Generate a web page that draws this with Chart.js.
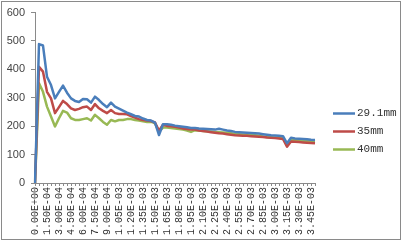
<!DOCTYPE html>
<html>
<head>
<meta charset="utf-8">
<script src="https://cdn.jsdelivr.net/npm/chart.js@4"></script>
<style>
  body { margin: 0; background: #fff; }
  canvas { display: block; }
</style>
</head>
<body>
<canvas id="chart" width="402" height="242"></canvas>
<script>
// x categories: 0 to 3.50E-03, step 5E-05
const steps = ["0.00E+00","5.00E-05","1.00E-04","1.50E-04","2.00E-04","2.50E-04","3.00E-04","3.50E-04","4.00E-04","4.50E-04",
  "5.00E-04","5.50E-04","6.00E-04","6.50E-04","7.00E-04","7.50E-04","8.00E-04","8.50E-04","9.00E-04","9.50E-04",
  "1.00E-03","1.05E-03","1.10E-03","1.15E-03","1.20E-03","1.25E-03","1.30E-03","1.35E-03","1.40E-03","1.45E-03",
  "1.50E-03","1.55E-03","1.60E-03","1.65E-03","1.70E-03","1.75E-03","1.80E-03","1.85E-03","1.90E-03","1.95E-03",
  "2.00E-03","2.05E-03","2.10E-03","2.15E-03","2.20E-03","2.25E-03","2.30E-03","2.35E-03","2.40E-03","2.45E-03",
  "2.50E-03","2.55E-03","2.60E-03","2.65E-03","2.70E-03","2.75E-03","2.80E-03","2.85E-03","2.90E-03","2.95E-03",
  "3.00E-03","3.05E-03","3.10E-03","3.15E-03","3.20E-03","3.25E-03","3.30E-03","3.35E-03","3.40E-03","3.45E-03",
  "3.50E-03"];

const series291 = [0,489,484,374,345,298,321,343,318,298,
  289,285,296,295,283,304,292,278,267,283,
  269,262,255,248,242,236,234,227,222,220,
  213,169,207,207,205,202,200,198,196,194,
  194,192,191,190,189,188,191,188,185,183,
  180,179,178,177,176,175,174,172,170,168,
  167,166,165,140,159,157,156,155,154,152,
  151];

const series35 = [0,409,392,321,298,246,267,289,278,263,
  257,261,267,269,257,278,263,254,246,257,
  246,243,243,242,236,230,225,222,220,218,
  213,184,205,201,200,198,195,192,190,188,
  188,185,183,181,179,177,175,174,172,170,
  168,167,166,166,165,164,163,162,160,159,
  158,157,155,128,146,145,144,143,142,141,
  140];

const series40 = [0,351,321,269,234,199,228,254,248,228,
  222,222,225,228,220,240,228,215,205,222,
  217,222,222,225,225,222,220,217,215,216,
  210,181,195,195,194,192,190,188,185,180,
  186,185,183,182,181,180,179,178,177,175,
  173,172,171,170,169,168,166,164,162,161,
  160,159,158,132,152,151,150,149,148,147,
  146];

const seriesNames = ["29.1mm", "35mm", "40mm"];
const seriesColors = ["#4A7EBB", "#BE4B48", "#98B954"];
const yTicks = [0, 100, 200, 300, 400, 500, 600];

const mono = "'Liberation Mono', 'DejaVu Sans Mono', monospace";

// legend + outer frame drawn by hand so it sits where Excel put it
const frameAndLegend = {
  id: "frameAndLegend",
  afterDraw(chart) {
    const ctx = chart.ctx;
    ctx.save();
    ctx.strokeStyle = "#8a8a8a";
    ctx.lineWidth = 1;
    ctx.strokeRect(1.5, 1.5, 399, 238);

    ctx.font = "11px " + mono;
    ctx.textBaseline = "middle";
    ctx.fillStyle = "#333";
    chart.data.datasets.forEach((ds, i) => {
      const y = 113.5 + i * 18;
      ctx.strokeStyle = ds.borderColor;
      ctx.lineWidth = 2.5;
      ctx.beginPath();
      ctx.moveTo(333, y);
      ctx.lineTo(355, y);
      ctx.stroke();
      ctx.fillText(ds.label, 357, y);
    });
    ctx.restore();
  }
};

new Chart(document.getElementById("chart"), {
  type: "line",
  data: {
    labels: steps,
    datasets: [series291, series35, series40].map((vals, i) => ({
      label: seriesNames[i],
      data: vals,
      borderColor: seriesColors[i],
      borderWidth: 2.5,
      pointRadius: 0,
      tension: 0,
      fill: false,
      borderJoinStyle: "round"
    }))
  },
  options: {
    responsive: false,
    animation: false,
    layout: { padding: { top: 12, right: 87, bottom: 0, left: 0 } },
    plugins: { legend: { display: false }, tooltip: { enabled: false } },
    scales: {
      x: {
        offset: false,
        grid: { drawOnChartArea: false, drawTicks: true, tickLength: 3, color: "#8a8a8a" },
        border: { color: "#8a8a8a", width: 1 },
        ticks: {
          autoSkip: false,
          minRotation: 90,
          maxRotation: 90,
          padding: 1,
          color: "#333",
          font: { family: mono, size: 10 },
          callback: function (v, i) { return i % 3 === 0 ? steps[i] : ""; }
        },
        afterFit(scale) { scale.height = 59; }
      },
      y: {
        min: 0,
        max: 600,
        afterBuildTicks(scale) { scale.ticks = yTicks.map(v => ({ value: v })); },
        grid: { drawOnChartArea: false, drawTicks: true, tickLength: 4, color: "#8a8a8a" },
        border: { color: "#8a8a8a", width: 1 },
        ticks: {
          padding: 6,
          color: "#444",
          font: { family: "'Liberation Sans', Arial, sans-serif", size: 11 }
        },
        afterFit(scale) { scale.width = 35; }
      }
    }
  },
  plugins: [frameAndLegend]
});
</script>
</body>
</html>
